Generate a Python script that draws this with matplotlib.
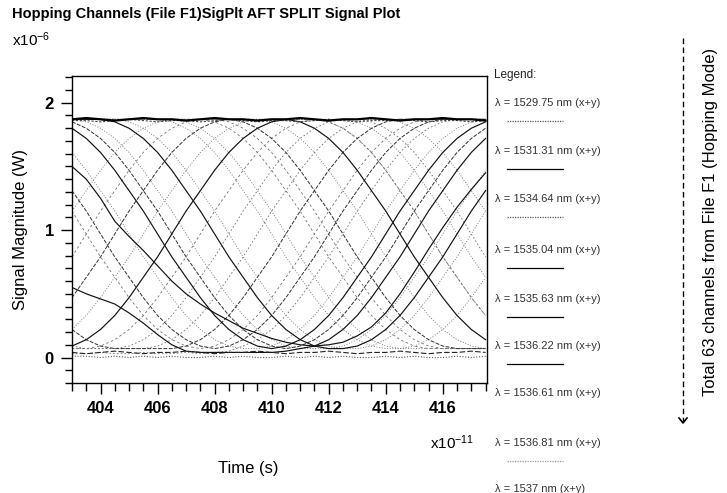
import matplotlib
matplotlib.use('Agg')
import matplotlib.pyplot as plt
from matplotlib.lines import Line2D
from matplotlib.ticker import MultipleLocator

plt.rcParams['font.family'] = ['Liberation Sans', 'DejaVu Sans']
plt.rcParams['mathtext.default'] = 'regular'

# ---------------- data ----------------
# time axis in units of 1e-11 s
time_e11 = [403.0, 403.5, 404.0, 404.5, 405.0, 405.5, 406.0, 406.5, 407.0, 407.5,
            408.0, 408.5, 409.0, 409.5, 410.0, 410.5, 411.0, 411.5, 412.0, 412.5,
            413.0, 413.5, 414.0, 414.5, 415.0, 415.5, 416.0, 416.5, 417.0, 417.5]

# signal magnitudes in units of 1e-6 W
top_a = [1.87, 1.88, 1.87, 1.86, 1.87, 1.88, 1.87, 1.87, 1.86, 1.87, 1.88, 1.87, 1.87, 1.86, 1.87,
         1.87, 1.88, 1.87, 1.86, 1.87, 1.87, 1.88, 1.87, 1.86, 1.87, 1.87, 1.88, 1.87, 1.87, 1.86]
top_b = [1.86, 1.86, 1.85, 1.86, 1.87, 1.86, 1.85, 1.86, 1.86, 1.85, 1.86, 1.87, 1.86, 1.85, 1.86,
         1.86, 1.85, 1.86, 1.87, 1.86, 1.85, 1.86, 1.86, 1.87, 1.86, 1.85, 1.86, 1.86, 1.85, 1.86]
bot_a = [0.01, 0.01, 0.00, 0.01, 0.00, 0.01, 0.00, 0.01, 0.00, 0.00, 0.01, 0.00, 0.01, 0.00, 0.00,
         0.01, 0.00, 0.01, 0.00, 0.01, 0.00, 0.00, 0.01, 0.00, 0.01, 0.00, 0.00, 0.01, 0.00, 0.01]
bot_b = [0.04, 0.03, 0.04, 0.05, 0.04, 0.03, 0.04, 0.04, 0.05, 0.04, 0.03, 0.04, 0.04, 0.05, 0.04,
         0.03, 0.04, 0.04, 0.05, 0.04, 0.03, 0.04, 0.04, 0.05, 0.04, 0.03, 0.04, 0.04, 0.05, 0.04]

ch01 = [1.50, 1.40, 1.25, 1.07, 0.95, 0.84, 0.72, 0.60, 0.50, 0.42, 0.35, 0.29, 0.23, 0.19, 0.15,
        0.12, 0.10, 0.09, 0.10, 0.12, 0.17, 0.24, 0.35, 0.50, 0.67, 0.85, 1.02, 1.18, 1.32, 1.45]
ch02 = [0.09, 0.14, 0.22, 0.33, 0.47, 0.63, 0.79, 0.97, 1.15, 1.31, 1.47, 1.61, 1.72, 1.80, 1.85,
        1.87, 1.85, 1.80, 1.72, 1.61, 1.47, 1.31, 1.15, 0.97, 0.79, 0.63, 0.47, 0.33, 0.22, 0.14]
ch03 = [0.55, 0.50, 0.46, 0.42, 0.35, 0.27, 0.18, 0.10, 0.05, 0.04, 0.04, 0.04, 0.04, 0.04, 0.04,
        0.05, 0.07, 0.09, 0.14, 0.22, 0.33, 0.47, 0.63, 0.79, 0.97, 1.15, 1.31, 1.47, 1.61, 1.72]
ch04 = [1.87, 1.87, 1.87, 1.85, 1.80, 1.72, 1.61, 1.47, 1.31, 1.15, 0.97, 0.79, 0.63, 0.47, 0.33,
        0.22, 0.14, 0.09, 0.07, 0.07, 0.09, 0.14, 0.22, 0.33, 0.47, 0.63, 0.79, 0.97, 1.15, 1.31]
ch05 = [1.80, 1.72, 1.61, 1.47, 1.31, 1.15, 0.97, 0.79, 0.63, 0.47, 0.33, 0.22, 0.14, 0.09, 0.07,
        0.09, 0.14, 0.22, 0.33, 0.47, 0.63, 0.79, 0.97, 1.15, 1.31, 1.47, 1.61, 1.72, 1.80, 1.85]
ch06 = [0.47, 0.63, 0.79, 0.97, 1.15, 1.31, 1.47, 1.61, 1.72, 1.80, 1.85, 1.87, 1.85, 1.80, 1.72,
        1.61, 1.47, 1.31, 1.15, 0.97, 0.79, 0.63, 0.47, 0.33, 0.22, 0.14, 0.09, 0.07, 0.07, 0.07]
ch07 = [0.07, 0.07, 0.07, 0.07, 0.09, 0.14, 0.22, 0.33, 0.47, 0.63, 0.79, 0.97, 1.15, 1.31, 1.47,
        1.61, 1.72, 1.80, 1.85, 1.87, 1.87, 1.85, 1.80, 1.72, 1.61, 1.47, 1.31, 1.15, 0.97, 0.79]
ch08 = [0.22, 0.14, 0.09, 0.07, 0.07, 0.07, 0.07, 0.07, 0.09, 0.14, 0.22, 0.33, 0.47, 0.63, 0.79,
        0.97, 1.15, 1.31, 1.47, 1.61, 1.72, 1.80, 1.85, 1.87, 1.87, 1.87, 1.87, 1.87, 1.87, 1.87]
ch09 = [1.87, 1.87, 1.87, 1.87, 1.87, 1.87, 1.87, 1.85, 1.80, 1.72, 1.61, 1.47, 1.31, 1.15, 0.97,
        0.79, 0.63, 0.47, 0.33, 0.22, 0.14, 0.09, 0.07, 0.07, 0.09, 0.14, 0.22, 0.33, 0.47, 0.63]
ch10 = [1.87, 1.87, 1.87, 1.87, 1.87, 1.87, 1.87, 1.87, 1.87, 1.87, 1.87, 1.85, 1.80, 1.72, 1.61,
        1.47, 1.31, 1.15, 0.97, 0.79, 0.63, 0.47, 0.33, 0.22, 0.14, 0.09, 0.07, 0.07, 0.07, 0.07]
ch11 = [1.85, 1.80, 1.72, 1.61, 1.47, 1.31, 1.15, 0.97, 0.79, 0.63, 0.47, 0.33, 0.22, 0.14, 0.09,
        0.07, 0.09, 0.14, 0.22, 0.33, 0.47, 0.63, 0.79, 0.97, 1.15, 1.31, 1.47, 1.61, 1.72, 1.80]
ch12 = [1.15, 1.31, 1.47, 1.61, 1.72, 1.80, 1.85, 1.87, 1.85, 1.80, 1.72, 1.61, 1.47, 1.31, 1.15,
        0.97, 0.79, 0.63, 0.47, 0.33, 0.22, 0.14, 0.09, 0.07, 0.07, 0.07, 0.07, 0.07, 0.07, 0.07]
ch13 = [1.31, 1.15, 0.97, 0.79, 0.63, 0.47, 0.33, 0.22, 0.14, 0.09, 0.07, 0.09, 0.14, 0.22, 0.33,
        0.47, 0.63, 0.79, 0.97, 1.15, 1.31, 1.47, 1.61, 1.72, 1.80, 1.85, 1.87, 1.87, 1.87, 1.87]
ch14 = [1.87, 1.87, 1.87, 1.87, 1.87, 1.87, 1.87, 1.87, 1.87, 1.87, 1.87, 1.87, 1.87, 1.87, 1.87,
        1.87, 1.87, 1.87, 1.85, 1.80, 1.72, 1.61, 1.47, 1.31, 1.15, 0.97, 0.79, 0.63, 0.47, 0.33]
ch15 = [0.22, 0.33, 0.47, 0.63, 0.79, 0.97, 1.15, 1.31, 1.47, 1.61, 1.72, 1.80, 1.85, 1.87, 1.87,
        1.87, 1.87, 1.87, 1.87, 1.87, 1.87, 1.87, 1.87, 1.85, 1.80, 1.72, 1.61, 1.47, 1.31, 1.15]
ch16 = [1.15, 0.97, 0.79, 0.63, 0.47, 0.33, 0.22, 0.14, 0.09, 0.07, 0.09, 0.14, 0.22, 0.33, 0.47,
        0.63, 0.79, 0.97, 1.15, 1.31, 1.47, 1.61, 1.72, 1.80, 1.85, 1.87, 1.87, 1.87, 1.87, 1.87]
ch17 = [1.87, 1.87, 1.87, 1.87, 1.85, 1.80, 1.72, 1.61, 1.47, 1.31, 1.15, 0.97, 0.79, 0.63, 0.47,
        0.33, 0.22, 0.14, 0.09, 0.07, 0.07, 0.09, 0.14, 0.22, 0.33, 0.47, 0.63, 0.79, 0.97, 1.15]
ch18 = [0.09, 0.07, 0.07, 0.07, 0.07, 0.07, 0.09, 0.14, 0.22, 0.33, 0.47, 0.63, 0.79, 0.97, 1.15,
        1.31, 1.47, 1.61, 1.72, 1.80, 1.85, 1.87, 1.87, 1.87, 1.87, 1.87, 1.87, 1.87, 1.87, 1.87]
ch19 = [1.61, 1.47, 1.31, 1.15, 0.97, 0.79, 0.63, 0.47, 0.33, 0.22, 0.14, 0.09, 0.07, 0.07, 0.09,
        0.14, 0.22, 0.33, 0.47, 0.63, 0.79, 0.97, 1.15, 1.31, 1.47, 1.61, 1.72, 1.80, 1.85, 1.87]
ch20 = [0.07, 0.07, 0.09, 0.14, 0.22, 0.33, 0.47, 0.63, 0.79, 0.97, 1.15, 1.31, 1.47, 1.61, 1.72,
        1.80, 1.85, 1.87, 1.85, 1.80, 1.72, 1.61, 1.47, 1.31, 1.15, 0.97, 0.79, 0.63, 0.47, 0.33]
ch21 = [1.87, 1.85, 1.80, 1.72, 1.61, 1.47, 1.31, 1.15, 0.97, 0.79, 0.63, 0.47, 0.33, 0.22, 0.14,
        0.09, 0.07, 0.07, 0.07, 0.09, 0.14, 0.22, 0.33, 0.47, 0.63, 0.79, 0.97, 1.15, 1.31, 1.47]
ch22 = [0.03, 0.03, 0.04, 0.03, 0.03, 0.04, 0.03, 0.03, 0.04, 0.03, 0.04, 0.05, 0.09, 0.14, 0.22,
        0.33, 0.47, 0.63, 0.79, 0.97, 1.15, 1.31, 1.47, 1.61, 1.72, 1.80, 1.85, 1.87, 1.87, 1.87]
ch23 = [1.87, 1.87, 1.87, 1.87, 1.87, 1.87, 1.87, 1.87, 1.87, 1.87, 1.87, 1.87, 1.87, 1.87, 1.85,
        1.80, 1.72, 1.61, 1.47, 1.31, 1.15, 0.97, 0.79, 0.63, 0.47, 0.33, 0.22, 0.14, 0.09, 0.07]
ch24 = [0.79, 0.97, 1.15, 1.31, 1.47, 1.61, 1.72, 1.80, 1.85, 1.87, 1.85, 1.80, 1.72, 1.61, 1.47,
        1.31, 1.15, 0.97, 0.79, 0.63, 0.47, 0.33, 0.22, 0.14, 0.09, 0.07, 0.07, 0.07, 0.07, 0.07]
ch25 = [1.87, 1.87, 1.87, 1.87, 1.87, 1.87, 1.87, 1.87, 1.87, 1.87, 1.87, 1.87, 1.87, 1.87, 1.87,
        1.87, 1.87, 1.87, 1.87, 1.87, 1.85, 1.80, 1.72, 1.61, 1.47, 1.31, 1.15, 0.97, 0.79, 0.63]

legend_labels = ['λ = 1529.75 nm (x+y)', 'λ = 1531.31 nm (x+y)', 'λ = 1534.64 nm (x+y)',
                 'λ = 1535.04 nm (x+y)', 'λ = 1535.63 nm (x+y)', 'λ = 1536.22 nm (x+y)',
                 'λ = 1536.61 nm (x+y)', 'λ = 1536.81 nm (x+y)', 'λ = 1537 nm (x+y)']
x_ticks = [404, 406, 408, 410, 412, 414, 416]
y_ticks = [0, 1, 2]

# ---------------- styles ----------------
light = [ch19, ch20, ch21, ch22, ch23, ch24, ch25, ch07, ch09, ch10, ch12, ch14, ch15, ch16, ch17, ch18]
light_styles = [(0, (1.2, 2.0)), (0, (3, 3)), (0, (1.2, 2.0)), (0, (2, 2.5)),
                (0, (1.2, 2.0)), (0, (3, 3)), (0, (1.2, 2.0)), (0, (2, 2.5))]
mid = [ch06, ch08, ch11, ch13]
dark = [ch01, ch02, ch03, ch04, ch05]

W, H = 727, 493
fig = plt.figure(figsize=(W / 100, H / 100), dpi=100)
fig.patch.set_facecolor('white')


def fx(px):
    return px / W


def fy(py):
    return 1 - py / H


ax = fig.add_axes([fx(72), fy(383), fx(487) - fx(72), fy(76) - fy(383)])

for i, tr in enumerate(light):
    ax.plot(time_e11, tr, color='#707070', lw=0.6, ls=light_styles[i % len(light_styles)])
for tr in mid:
    ax.plot(time_e11, tr, color='#303030', lw=0.7, ls=(0, (4, 1.5)))
for tr in dark:
    ax.plot(time_e11, tr, color='#111111', lw=0.85)
ax.plot(time_e11, bot_a, color='#555555', lw=0.8, ls=(0, (1, 1.5)))
ax.plot(time_e11, bot_b, color='#222222', lw=0.8, ls=(0, (5, 2)))
ax.plot(time_e11, top_b, color='#444444', lw=0.8, ls=(0, (2, 1.5)))
ax.plot(time_e11, top_a, color='black', lw=1.6)

ax.set_xlim(403.0, 417.55)
ax.set_ylim(-0.2, 2.21)
ax.set_xticks(x_ticks)
ax.set_yticks(y_ticks)
ax.xaxis.set_minor_locator(MultipleLocator(0.5))
ax.yaxis.set_minor_locator(MultipleLocator(0.1))
ax.tick_params(which='major', direction='out', length=8, width=1, labelsize=12, pad=5)
ax.tick_params(which='minor', direction='out', length=5, width=1)
ax.tick_params(axis='x', which='minor', length=6)
for lab in ax.get_xticklabels() + ax.get_yticklabels():
    lab.set_fontweight('bold')
for sp in ax.spines.values():
    sp.set_linewidth(1.0)

# ---------------- texts ----------------
fig.text(fx(12), fy(14), 'Hopping Channels (File F1)SigPlt AFT SPLIT Signal Plot',
         fontsize=10.5, fontweight='bold', ha='left', va='center')
fig.text(fx(12), fy(40), r'x10$^{-6}$', fontsize=11, ha='left', va='center')
fig.text(fx(21), fy(230), 'Signal Magnitude (W)', fontsize=12, rotation=90, ha='center', va='center')
fig.text(fx(248), fy(468), 'Time (s)', fontsize=12, ha='center', va='center')
fig.text(fx(430), fy(443), r'x10$^{-11}$', fontsize=11, ha='left', va='center')

# legend column
fig.text(fx(494), fy(75), 'Legend:', fontsize=8.5, color='#222222', ha='left', va='center')
legend_y = [103, 151, 199, 250, 299, 346, 393, 443, 489]
legend_ls = [(0, (1, 1)), '-', (0, (1, 1)), '-', '-', '-', None, (0, (1, 1)), None]
legend_col = ['#555555', 'black', '#555555', 'black', 'black', 'black', None, '#999999', None]
for lab, yy, ls, col in zip(legend_labels, legend_y, legend_ls, legend_col):
    fig.text(fx(495), fy(yy), lab, fontsize=8, color='#333333', ha='left', va='center')
    if ls is not None:
        fig.add_artist(Line2D([fx(507), fx(563)], [fy(yy + 18), fy(yy + 18)],
                              transform=fig.transFigure, color=col, lw=0.9, ls=ls))

# right side annotation
fig.add_artist(Line2D([fx(683), fx(683)], [fy(38), fy(422)], transform=fig.transFigure,
                      color='black', lw=1.0, ls=(0, (4, 2.5))))
fig.add_artist(Line2D([fx(679), fx(683), fx(687)], [fy(418), fy(423), fy(418)],
                      transform=fig.transFigure, color='black', lw=1.2))
fig.text(fx(710), fy(222), 'Total 63 channels from File F1 (Hopping Mode)', fontsize=12,
         rotation=90, ha='center', va='center')

fig.savefig('out.png', dpi=100)
